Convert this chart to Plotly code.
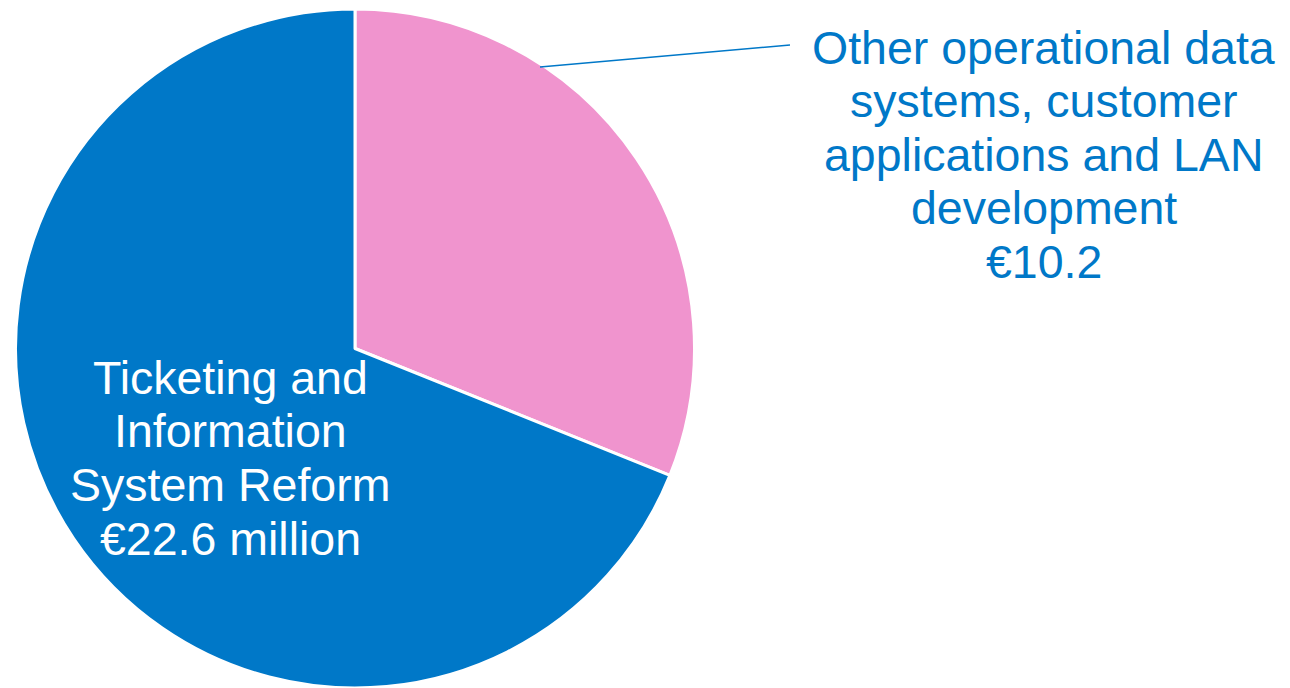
import plotly.graph_objects as go

# Data
categories = ["Other operational data systems, customer applications and LAN development",
              "Ticketing and Information System Reform"]
values = [10.2, 22.6]
colors = ["#F094CE", "#0078C8"]
label_lines_other = ["Other operational data", "systems, customer", "applications and LAN",
                     "development", "€10.2"]
label_lines_ticket = ["Ticketing and", "Information", "System Reform", "€22.6 million"]

W, H = 1290, 688
FONT = "Liberation Sans, Arial, sans-serif"
FS = 46.5
LINE = 53.5

fig = go.Figure(go.Pie(
    labels=categories,
    values=values,
    sort=False,
    direction="clockwise",
    rotation=0,
    marker=dict(colors=colors, line=dict(color="white", width=3)),
    textinfo="none",
    hoverinfo="label+value",
    showlegend=False,
    domain=dict(x=[0, 710 / W], y=[0, 679 / H]),
))

annotations = []
for i, t in enumerate(label_lines_other):
    py = 48 + i * LINE
    annotations.append(dict(text=t, x=1043.5 / W, y=1 - py / H, xref="paper", yref="paper",
                            xanchor="center", yanchor="middle", showarrow=False,
                            font=dict(family=FONT, size=FS, color="#0078C8")))
for i, t in enumerate(label_lines_ticket):
    py = 378 + i * LINE
    annotations.append(dict(text=t, x=230 / W, y=1 - py / H, xref="paper", yref="paper",
                            xanchor="center", yanchor="middle", showarrow=False,
                            font=dict(family=FONT, size=FS, color="white")))

fig.update_layout(
    width=W, height=H,
    margin=dict(l=0, r=0, t=0, b=0),
    paper_bgcolor="white", plot_bgcolor="white",
    annotations=annotations,
    shapes=[dict(type="line", xref="paper", yref="paper",
                 x0=540 / W, y0=1 - 67 / H, x1=790 / W, y1=1 - 45 / H,
                 line=dict(color="#0078C8", width=1.5))],
)

fig.write_html("out.html")
